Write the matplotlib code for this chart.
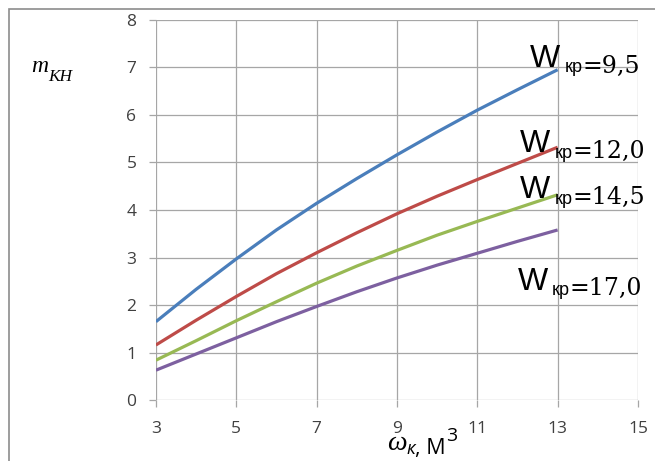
import matplotlib.pyplot as plt
from matplotlib.patches import Rectangle

# данные
omega = [3, 4, 5, 6, 7, 8, 9, 10, 11, 12, 13]
m_95 = [1.65, 2.33, 2.97, 3.58, 4.14, 4.66, 5.16, 5.64, 6.10, 6.53, 6.95]
m_120 = [1.16, 1.68, 2.18, 2.66, 3.10, 3.52, 3.92, 4.29, 4.64, 4.98, 5.32]
m_145 = [0.84, 1.25, 1.67, 2.07, 2.46, 2.82, 3.15, 3.47, 3.76, 4.04, 4.32]
m_170 = [0.63, 0.97, 1.31, 1.65, 1.97, 2.28, 2.57, 2.84, 3.09, 3.34, 3.58]

series = [m_95, m_120, m_145, m_170]
labels = ['=9,5', '=12,0', '=14,5', '=17,0']
colors = ['#4A7EBB', '#BE4B48', '#98B954', '#7D60A0']
label_pos = [(12.31, 7.01), (12.06, 5.22), (12.06, 4.25), (12.0, 2.32)]

xticks = [3, 5, 7, 9, 11, 13, 15]
yticks = [0, 1, 2, 3, 4, 5, 6, 7, 8]

fig = plt.figure(figsize=(6.55, 4.61), dpi=100)
ax = fig.add_axes([0.238, 0.132, 0.736, 0.825])

# рамка области диаграммы (обрезана справа и снизу)
fig.patches.append(Rectangle((9 / 655, -0.1), 1.2, 1 - 9 / 461 + 0.1,
                             transform=fig.transFigure, fill=False,
                             edgecolor='#8c8c8c', linewidth=1.2))

for ys, c in zip(series, colors):
    ax.plot(omega, ys, color=c, linewidth=2.3, solid_capstyle='butt',
            solid_joinstyle='round')

ax.set_xlim(3, 15)
ax.set_ylim(0, 8)
ax.set_xticks(xticks)
ax.set_yticks(yticks)
ax.grid(True, color='#a6a6a6', linewidth=0.9)
ax.set_axisbelow(True)
for s in ax.spines.values():
    s.set_visible(False)
ax.tick_params(axis='both', colors='#a6a6a6', length=5, width=0.9,
               labelcolor='#404040', labelsize=12.5)
ax.tick_params(axis='y', pad=9)
ax.tick_params(axis='x', pad=10)
for t in ax.get_xticklabels() + ax.get_yticklabels():
    t.set_fontfamily('Open Sans')

# подписи кривых: W кр=...
for lab, (lx, ly) in zip(labels, label_pos):
    w = ax.text(lx, ly, 'W', fontsize=23, family='Liberation Sans',
                va='baseline', ha='left')
    k = ax.annotate('кр', xy=(1, 0), xycoords=w, xytext=(3, 1),
                    textcoords='offset points', fontsize=13,
                    family='Liberation Sans', va='baseline')
    ax.annotate(lab, xy=(1, 0), xycoords=(k, w), xytext=(0, 1),
                textcoords='offset points', fontsize=17,
                family='DejaVu Serif', va='baseline', annotation_clip=False)

# подпись оси Y
my = fig.text(31 / 655, 1 - 72 / 461, 'm', fontsize=17, style='italic',
              family='Liberation Serif', va='baseline')
ax.annotate('КН', xy=(1, 0), xycoords=my, xytext=(0, -3),
            textcoords='offset points', fontsize=12.5, style='italic',
            family='Liberation Serif', va='baseline', annotation_clip=False)

# подпись оси X
om = fig.text(387 / 655, 1 - 450 / 461, 'ω', fontsize=20, style='italic',
              family='Liberation Serif', va='baseline')
kk = ax.annotate('к', xy=(1, 0), xycoords=om, xytext=(0, 1.5),
                 textcoords='offset points', fontsize=13, style='italic',
                 family='Open Sans', va='baseline', annotation_clip=False)
mm = ax.annotate(', М', xy=(1, 0), xycoords=(kk, om), xytext=(0, 1.5),
                 textcoords='offset points', fontsize=15.5, family='Open Sans',
                 va='baseline', annotation_clip=False)
ax.annotate('3', xy=(1, 0), xycoords=(mm, om), xytext=(0, 11),
            textcoords='offset points', fontsize=14, family='Open Sans',
            va='baseline', annotation_clip=False)

fig.savefig('out.png', dpi=100)
